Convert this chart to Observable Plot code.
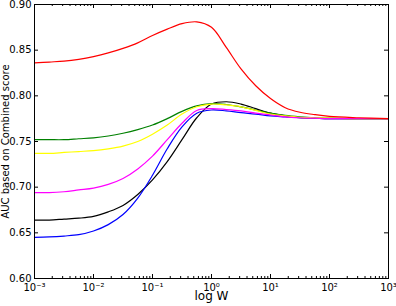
<!DOCTYPE html>
<html>
<head>
<meta charset="utf-8">
<script src="https://cdn.jsdelivr.net/npm/d3@7"></script>
<script src="https://cdn.jsdelivr.net/npm/@observablehq/plot@0.6"></script>
<style>
  html, body { margin: 0; padding: 0; background: #fff; }
  #chart svg { display: block; }
</style>
</head>
<body>
<div id="chart"></div>
<script>
// exponent of W (log10 W)
const logW = [-3, -2.75, -2.5, -2.25, -2, -1.75, -1.5, -1.25, -1, -0.75, -0.5, -0.25, 0, 0.25, 0.5, 0.75, 1, 1.25, 1.5, 1.75, 2, 2.5, 3];

const redSeries     = [0.836, 0.837, 0.838, 0.840, 0.843, 0.847, 0.852, 0.858, 0.866, 0.873, 0.879, 0.881, 0.875, 0.853, 0.8295, 0.811, 0.797, 0.787, 0.782, 0.7794, 0.7775, 0.776, 0.775];
const greenSeries   = [0.752, 0.752, 0.752, 0.753, 0.754, 0.756, 0.759, 0.763, 0.768, 0.775, 0.783, 0.789, 0.7915, 0.7905, 0.788, 0.7845, 0.781, 0.7785, 0.777, 0.776, 0.7755, 0.775, 0.775];
const yellowSeries  = [0.737, 0.737, 0.738, 0.739, 0.740, 0.742, 0.745, 0.750, 0.758, 0.768, 0.780, 0.788, 0.791, 0.790, 0.788, 0.784, 0.780, 0.778, 0.7765, 0.776, 0.7755, 0.775, 0.775];
const magentaSeries = [0.694, 0.694, 0.695, 0.697, 0.699, 0.703, 0.7095, 0.720, 0.734, 0.752, 0.770, 0.784, 0.786, 0.785, 0.7835, 0.781, 0.779, 0.777, 0.776, 0.7755, 0.775, 0.775, 0.775];
const blackSeries   = [0.664, 0.664, 0.665, 0.666, 0.668, 0.673, 0.680, 0.692, 0.708, 0.728, 0.752, 0.776, 0.791, 0.7935, 0.791, 0.786, 0.781, 0.778, 0.776, 0.7755, 0.775, 0.775, 0.775];
const blueSeries    = [0.645, 0.6455, 0.6465, 0.648, 0.652, 0.659, 0.670, 0.688, 0.713, 0.742, 0.766, 0.781, 0.7845, 0.7835, 0.7816, 0.780, 0.778, 0.777, 0.776, 0.7755, 0.775, 0.775, 0.775];

const seriesNames  = ["black", "blue", "green", "yellow", "magenta", "red"];
const seriesColors = ["#000000", "#0000ff", "#008000", "#bfbf00", "#bf00bf", "#ff0000"];
const seriesValues = [blackSeries, blueSeries, greenSeries, yellowSeries, magentaSeries, redSeries];

const xMajorTicks = [1e-3, 1e-2, 1e-1, 1e0, 1e1, 1e2, 1e3];
const xTickLabels = ["10\u207B\u00B3", "10\u207B\u00B2", "10\u207B\u00B9", "10\u2070", "10\u00B9", "10\u00B2", "10\u00B3"];
const xMinorMultipliers = [2, 3, 4, 5, 6, 7, 8, 9];
const yTicks = [0.60, 0.65, 0.70, 0.75, 0.80, 0.85, 0.90];

const xLabel = "log W";
const yLabel = "AUC based on Combined score";

// build table
const rows = [];
seriesNames.forEach((name, i) => {
  logW.forEach((e, j) => rows.push({series: name, W: Math.pow(10, e), auc: seriesValues[i][j]}));
});
const xMinorTicks = [];
xMajorTicks.slice(0, -1).forEach(t => xMinorMultipliers.forEach(m => xMinorTicks.push(t * m)));
const xLabelFor = d => xTickLabels[Math.round(Math.log10(d)) + 3];

const W = 396, H = 306;
const mL = 34, mR = 8, mT = 4, mB = 28;
const plotH = H - mT - mB, plotW = W - mL - mR;
const majorLen = 4, minorLen = 2;

const chart = Plot.plot({
  width: W, height: H,
  marginLeft: mL, marginRight: mR, marginTop: mT, marginBottom: mB,
  style: {fontFamily: "DejaVu Sans", fontSize: "10px", color: "#000", background: "#fff"},
  x: {type: "log", domain: [1e-3, 1e3]},
  y: {domain: [0.6, 0.9]},
  color: {domain: seriesNames, range: seriesColors},
  marks: [
    Plot.line(rows, {x: "W", y: "auc", z: "series", stroke: "series", strokeWidth: 1.2, curve: "catmull-rom"}),
    // inward ticks, bottom & top
    Plot.tickX(xMajorTicks, {x: d => d, insetTop: plotH - majorLen, stroke: "#000"}),
    Plot.tickX(xMajorTicks, {x: d => d, insetBottom: plotH - majorLen, stroke: "#000"}),
    Plot.tickX(xMinorTicks, {x: d => d, insetTop: plotH - minorLen, stroke: "#000"}),
    Plot.tickX(xMinorTicks, {x: d => d, insetBottom: plotH - minorLen, stroke: "#000"}),
    // inward ticks, left & right
    Plot.tickY(yTicks, {y: d => d, insetRight: plotW - majorLen, stroke: "#000"}),
    Plot.tickY(yTicks, {y: d => d, insetLeft: plotW - majorLen, stroke: "#000"}),
    Plot.axisX({ticks: xMajorTicks, tickSize: 0, tickPadding: 5, fontSize: 10, tickFormat: xLabelFor, label: null}),
    Plot.axisY({ticks: yTicks, tickSize: 0, tickPadding: 3, fontSize: 10, tickFormat: d3.format(".2f"), label: null}),
    Plot.frame({stroke: "#000", strokeWidth: 1}),
    Plot.text([xLabel], {frameAnchor: "bottom", dy: 21.5, fontSize: 12, fill: "#000"}),
    Plot.text([yLabel], {frameAnchor: "left", textAnchor: "middle", rotate: -90, dx: -29, fontSize: 10, fill: "#000"})
  ]
});
document.getElementById("chart").appendChild(chart);
</script>
</body>
</html>
